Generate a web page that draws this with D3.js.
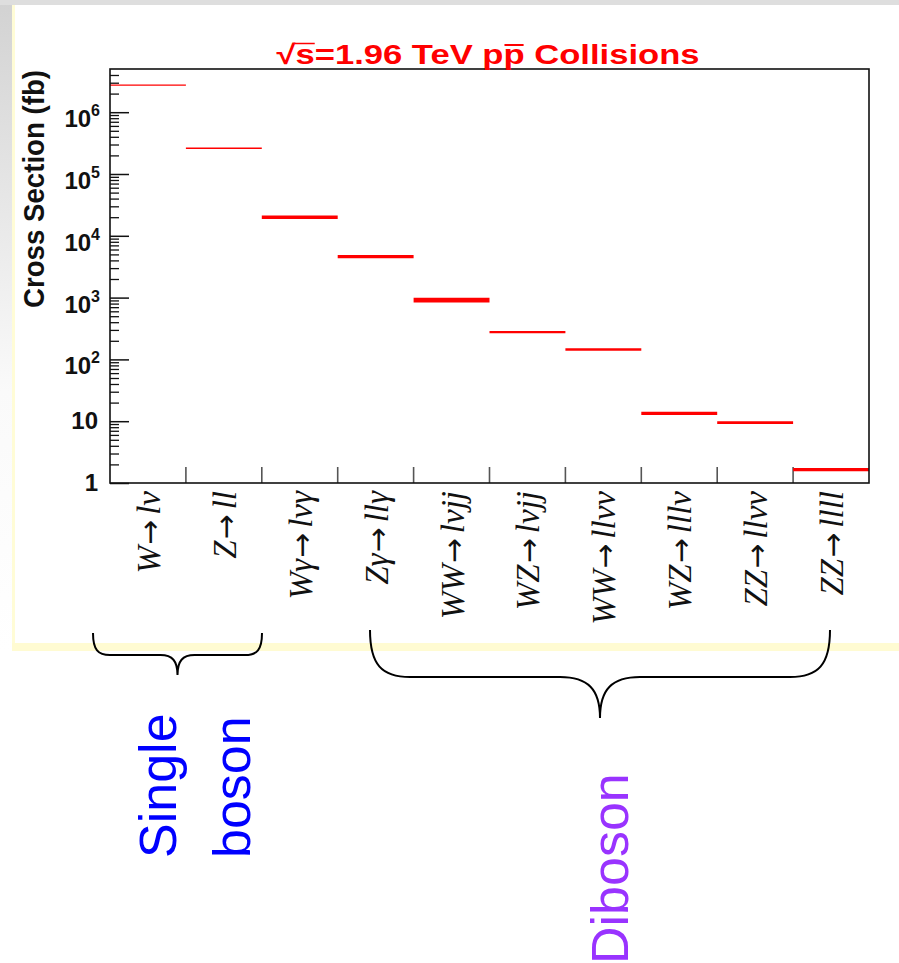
<!DOCTYPE html>
<html>
<head>
<meta charset="utf-8">
<script src="https://cdn.jsdelivr.net/npm/d3@7"></script>
<style>
  body { margin: 0; background: #fff; }
  svg { display: block; }
</style>
</head>
<body>
<div id="chart"></div>
<script>
"use strict";

// Processes (x categories) and their cross sections in fb
const processes = ["W→lν", "Z→ll", "Wγ→lνγ", "Zγ→llγ", "WW→lνjj", "WZ→lνjj", "WW→llνν", "WZ→lllν", "ZZ→llνν", "ZZ→llll"];
const crossSections = [2.75e6, 2.6e5, 2.0e4, 4.6e3, 910, 277, 145, 13.4, 9.5, 1.64];

// y axis labels (log decades)
const decadeValues = [1, 10, 1e2, 1e3, 1e4, 1e5, 1e6];
const decadeExponents = [null, null, 2, 3, 4, 5, 6];

// groups under the axis
const groups = [
	{name: ["Single", "boson"], from: 0, to: 1, color: "#0000ff"},
	{name: ["Diboson"], from: 3, to: 9, color: "#9933ff"}
];

const title = "√s=1.96 TeV pp Collisions";

// line widths roughly as drawn in the original
const lineWidths = [1.3, 1.5, 3.6, 3.4, 4.6, 2.3, 2.6, 3.4, 2.6, 3.3];

const W = 899, H = 963;
const plot = {left: 110, right: 869, top: 69, bottom: 483};

const svg = d3.select("#chart").append("svg")
	.attr("width", W)
	.attr("height", H);

// ---- slide background ----
const defs = svg.append("defs");
const grad = defs.append("linearGradient").attr("id", "leftfade")
	.attr("x1", 0).attr("y1", 0).attr("x2", 0).attr("y2", 1);
grad.append("stop").attr("offset", "0%").attr("stop-color", "#d2d2d2");
grad.append("stop").attr("offset", "60%").attr("stop-color", "#fafafa");
grad.append("stop").attr("offset", "100%").attr("stop-color", "#ffffff");

svg.append("rect").attr("width", W).attr("height", H).attr("fill", "#fff");
svg.append("rect").attr("x", 0).attr("y", 0).attr("width", 12).attr("height", 651).attr("fill", "url(#leftfade)");
svg.append("rect").attr("x", 0).attr("y", 0).attr("width", W).attr("height", 5).attr("fill", "#dedede");
svg.append("rect").attr("x", 12).attr("y", 5).attr("width", 3).attr("height", 646).attr("fill", "#fffcd6");
svg.append("rect").attr("x", 12).attr("y", 643).attr("width", W - 12).attr("height", 8).attr("fill", "#fffbd2");

// ---- scales ----
const x = d3.scaleBand()
	.domain(processes)
	.range([plot.left, plot.right])
	.paddingInner(0)
	.paddingOuter(0);

const y = d3.scaleLog()
	.domain([1, 5e6])
	.range([plot.bottom, plot.top]);

// minor tick values 2..9 x 10^n inside the domain
const minorTicks = [];
for (let d = 0; d <= 6; d++) {
	for (let m = 2; m <= 9; m++) {
		const v = m * Math.pow(10, d);
		if (v < 5e6) minorTicks.push(v);
	}
}

// major + minor ticks point into the frame
svg.append("g")
	.attr("transform", `translate(${plot.left},0)`)
	.call(d3.axisLeft(y).tickValues(minorTicks).tickSize(-9).tickFormat(""))
	.call(g => g.select(".domain").remove())
	.call(g => g.selectAll("line").attr("stroke", "#111").attr("stroke-width", 1.3));

svg.append("g")
	.attr("transform", `translate(${plot.left},0)`)
	.call(d3.axisLeft(y).tickValues(decadeValues).tickSize(-19).tickFormat(""))
	.call(g => g.select(".domain").remove())
	.call(g => g.selectAll("line").attr("stroke", "#111").attr("stroke-width", 1.5));

// y labels (10^n)
const ylab = svg.append("g")
	.attr("font-family", "Liberation Sans, Arial, sans-serif")
	.attr("font-weight", "bold")
	.attr("fill", "#111");

decadeValues.forEach((v, i) => {
	const e = decadeExponents[i];
	const t = ylab.append("text")
		.attr("x", plot.left - 12)
		.attr("y", y(v) + 8)
		.attr("text-anchor", "end")
		.attr("font-size", 24);
	if (e === null) {
		t.text(v);
	} else {
		t.attr("x", plot.left - 10).attr("y", y(v) + 15);
		t.append("tspan").text("10");
		t.append("tspan").attr("font-size", 16).attr("dy", -11).text(e);
	}
});

// y axis title
svg.append("text")
	.attr("transform", "translate(44,189) rotate(-90)")
	.attr("text-anchor", "middle")
	.attr("font-family", "Liberation Sans, Arial, sans-serif")
	.attr("font-weight", "bold")
	.attr("font-size", 29)
	.attr("textLength", 238)
	.attr("lengthAdjust", "spacingAndGlyphs")
	.attr("fill", "#111")
	.text("Cross Section (fb)");

// x ticks at bin edges
svg.append("g")
	.selectAll("line")
	.data(processes.slice(1))
	.join("line")
	.attr("x1", d => x(d))
	.attr("x2", d => x(d))
	.attr("y1", plot.bottom)
	.attr("y2", plot.bottom - 16)
	.attr("stroke", "#555")
	.attr("stroke-width", 1.6);

// cross-section levels
svg.append("g")
	.selectAll("line")
	.data(processes)
	.join("line")
	.attr("x1", d => x(d))
	.attr("x2", d => x(d) + x.bandwidth())
	.attr("y1", (d, i) => y(crossSections[i]))
	.attr("y2", (d, i) => y(crossSections[i]))
	.attr("stroke", "#ff0000")
	.attr("stroke-width", (d, i) => lineWidths[i]);

// frame
svg.append("rect")
	.attr("x", plot.left)
	.attr("y", plot.top)
	.attr("width", plot.right - plot.left)
	.attr("height", plot.bottom - plot.top)
	.attr("fill", "none")
	.attr("stroke", "#111")
	.attr("stroke-width", 1.6);

// title, second p gets a bar
const titleText = svg.append("text")
	.attr("x", 488)
	.attr("y", 64)
	.attr("text-anchor", "middle")
	.attr("font-family", "Liberation Sans, Arial, sans-serif")
	.attr("font-weight", "bold")
	.attr("font-size", 27)
	.attr("textLength", 423)
	.attr("lengthAdjust", "spacingAndGlyphs")
	.attr("fill", "#ff0000")
	.text(title);
const pIdx = title.indexOf("pp") + 1;
const pBox = titleText.node().getExtentOfChar(pIdx);
svg.append("line")
	.attr("x1", pBox.x + 1)
	.attr("x2", pBox.x + pBox.width - 1)
	.attr("y1", 45)
	.attr("y2", 45)
	.attr("stroke", "#ff0000")
	.attr("stroke-width", 2);
// bar over the s of the root
const sBox = titleText.node().getExtentOfChar(1);
svg.append("line")
	.attr("x1", sBox.x - 1)
	.attr("x2", sBox.x + sBox.width)
	.attr("y1", 43.5)
	.attr("y2", 43.5)
	.attr("stroke", "#ff0000")
	.attr("stroke-width", 1.5);

// x category labels, rotated
const xlab = svg.append("g")
	.attr("font-family", "Liberation Serif, Times New Roman, serif")
	.attr("font-size", 33)
	.attr("fill", "#111");

processes.forEach(p => {
	const parts = p.split("→");
	const cx = x(p) + x.bandwidth() / 2;
	const t = xlab.append("text")
		.attr("transform", `translate(${cx + 12},${plot.bottom + 8}) rotate(-90)`)
		.attr("text-anchor", "end");
	t.append("tspan").attr("font-style", "italic").text(parts[0]);
	t.append("tspan")
		.attr("font-family", "DejaVu Sans, sans-serif")
		.attr("font-size", 30)
		.attr("dx", 1)
		.text("→");
	t.append("tspan").attr("font-style", "italic").attr("dx", 5).text(parts[1]);
});

// braces under the labels
function bracePath(x0, x1, yTop, yMid, yTip, r) {
	const xc = (x0 + x1) / 2;
	return `M${x0},${yTop} C${x0},${yMid - r * 0.3} ${x0 + r * 0.3},${yMid} ${x0 + r},${yMid}` +
		` L${xc - r},${yMid} C${xc - r * 0.3},${yMid} ${xc},${yMid + (yTip - yMid) * 0.3} ${xc},${yTip}` +
		` C${xc},${yMid + (yTip - yMid) * 0.3} ${xc + r * 0.3},${yMid} ${xc + r},${yMid}` +
		` L${x1 - r},${yMid} C${x1 - r * 0.3},${yMid} ${x1},${yMid - r * 0.3} ${x1},${yTop}`;
}

const braceGeom = [
	{x0: 93, x1: 262, yTop: 633, yMid: 655, yTip: 675, r: 17},
	{x0: 370, x1: 830, yTop: 630, yMid: 677, yTip: 718, r: 40}
];

groups.forEach((g, i) => {
	const b = braceGeom[i];
	svg.append("path")
		.attr("d", bracePath(b.x0, b.x1, b.yTop, b.yMid, b.yTip, b.r))
		.attr("fill", "none")
		.attr("stroke", "#000")
		.attr("stroke-width", 2);
});

// group names, rotated
const groupText = [
	{lines: [{x: 176, y: 858}, {x: 250, y: 858}]},
	{lines: [{x: 628, y: 964}]}
];
groups.forEach((g, i) => {
	g.name.forEach((word, j) => {
		const pos = groupText[i].lines[j];
		svg.append("text")
			.attr("transform", `translate(${pos.x},${pos.y}) rotate(-90)`)
			.attr("font-family", "Liberation Sans, Arial, sans-serif")
			.attr("font-size", 52)
			.attr("fill", g.color)
			.text(word);
	});
});
</script>
</body>
</html>
